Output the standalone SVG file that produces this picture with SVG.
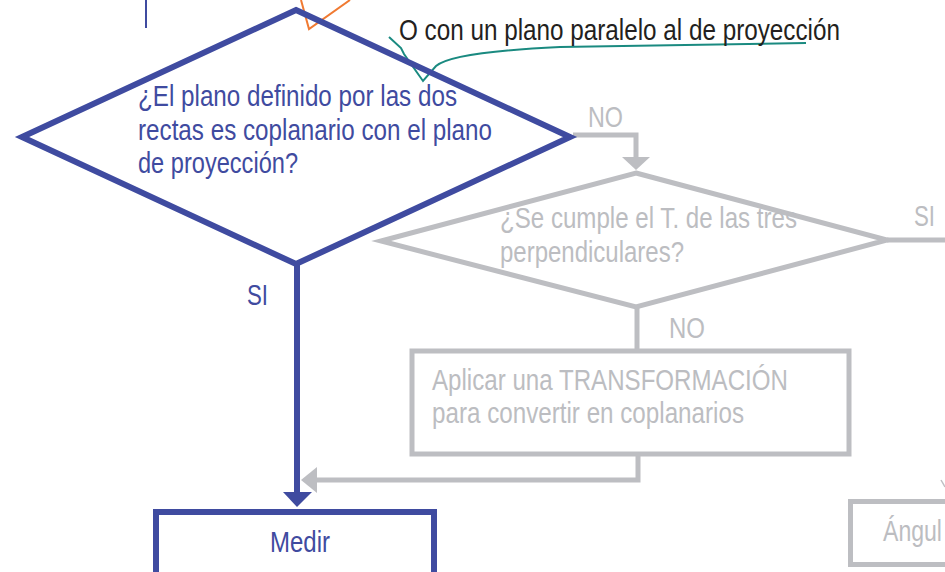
<svg xmlns="http://www.w3.org/2000/svg" width="945" height="572" viewBox="0 0 945 572">
<style>
text{font-family:"Liberation Sans Narrow","Liberation Sans",Arial,sans-serif;font-size:29px}
.b{fill:#3f4ba0}
.g{fill:#bcbdc1}
.k{fill:#231f20}
.bs{fill:none;stroke:#3f4ba0;stroke-width:6;stroke-miterlimit:10}
.gs{fill:none;stroke:#bdbec2;stroke-width:5;stroke-miterlimit:10}
.bf{fill:#3f4ba0}
.gf{fill:#bdbec2}
</style>
<rect width="945" height="572" fill="#fff"/>
<g id="annotations">
<line x1="146" y1="0" x2="146" y2="28" stroke="#3f4ba0" stroke-width="2"/>
<path d="M301,0 L309,29 L350,0" fill="none" stroke="#f07a32" stroke-width="2"/>
<path d="M389,37 L401,48 L404,54 L423,81 L436,66 Q452,52 560,47 L806,43" fill="none" stroke="#1a8a80" stroke-width="2"/>
<text class="k" x="399" y="40" textLength="441" lengthAdjust="spacingAndGlyphs">O con un plano paralelo al de proyección</text>
</g>
<g id="connectors">
<line class="bs" x1="297" y1="264" x2="297" y2="493"/>
<polygon class="bf" points="283,492 312,492 297,507"/>
<path class="gs" d="M573,135 H636 V158"/>
<polygon class="gf" points="622,157 650,157 636,170"/>
<line class="gs" x1="887" y1="240" x2="945" y2="240"/>
<line class="gs" x1="637" y1="307" x2="637" y2="349"/>
<path class="gs" d="M638,455 V480 H314"/>
<polygon class="gf" points="317,467 317,493 301,480"/>
<line x1="941" y1="480" x2="945" y2="487" stroke="#bdbec2" stroke-width="1.5"/>
<text class="b" x="247" y="305" textLength="21" lengthAdjust="spacingAndGlyphs">SI</text>
<text class="g" x="588" y="127" textLength="35" lengthAdjust="spacingAndGlyphs">NO</text>
<text class="g" x="914" y="226" textLength="21" lengthAdjust="spacingAndGlyphs">SI</text>
<text class="g" x="669" y="338" textLength="36" lengthAdjust="spacingAndGlyphs">NO</text>
</g>
<g id="decision1">
<polygon class="bs" points="296,10 570,137 296,264 22,137"/>
<text class="b" x="138" y="106" textLength="319" lengthAdjust="spacingAndGlyphs">¿El plano definido por las dos</text>
<text class="b" x="138" y="140" textLength="354" lengthAdjust="spacingAndGlyphs">rectas es coplanario con el plano</text>
<text class="b" x="138" y="173" textLength="160" lengthAdjust="spacingAndGlyphs">de proyección?</text>
</g>
<g id="decision2">
<polygon class="gs" points="636,173 887,240 636,307 381,241"/>
<text class="g" x="500" y="228" textLength="297" lengthAdjust="spacingAndGlyphs">¿Se cumple el T. de las tres</text>
<text class="g" x="500" y="262" textLength="184" lengthAdjust="spacingAndGlyphs">perpendiculares?</text>
</g>
<g id="transform">
<rect class="gs" x="412" y="351" width="437" height="103"/>
<text class="g" x="432" y="390" textLength="356" lengthAdjust="spacingAndGlyphs">Aplicar una TRANSFORMACIÓN</text>
<text class="g" x="432" y="423" textLength="312" lengthAdjust="spacingAndGlyphs">para convertir en coplanarios</text>
</g>
<g id="medir">
<rect class="bs" x="156" y="512" width="278" height="80"/>
<text class="b" x="270" y="552" textLength="60" lengthAdjust="spacingAndGlyphs">Medir</text>
</g>
<g id="angulo">
<rect class="gs" x="850.5" y="501.5" width="120" height="63"/>
<text class="g" x="883" y="541" textLength="59" lengthAdjust="spacingAndGlyphs">Ángul</text>
</g>
</svg>
